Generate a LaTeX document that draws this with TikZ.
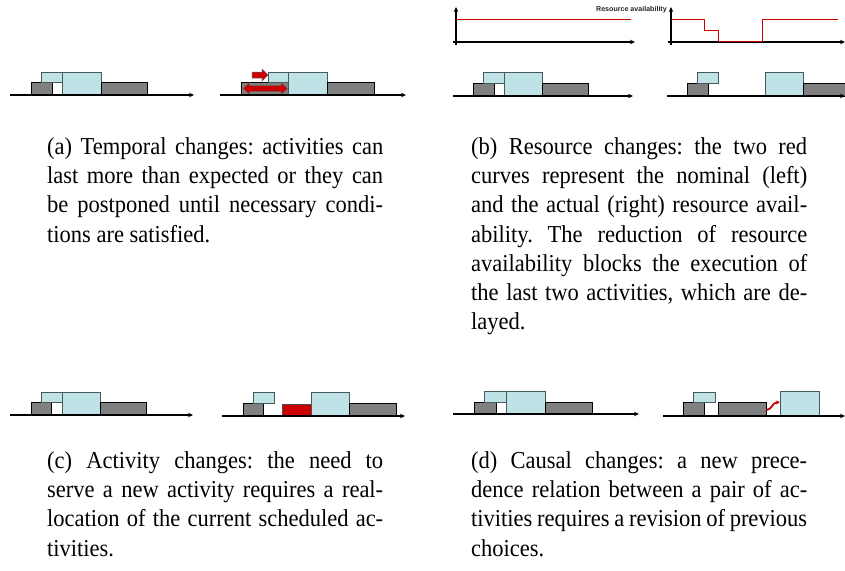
\documentclass[tikz,border=0pt]{standalone}
\usepackage{graphicx}
\usepackage{fontspec}
\setmainfont{Liberation Serif}
\newfontfamily\labelfont{Liberation Sans}
\usetikzlibrary{arrows.meta}
\definecolor{lbfill}{RGB}{190,226,230}
\definecolor{lbdraw}{RGB}{70,90,90}
\definecolor{gfill}{RGB}{128,128,128}
\definecolor{redfill}{RGB}{204,0,0}
\tikzset{
  lbbox/.style={fill=lbfill,draw=lbdraw,line width=0.9pt},
  gbox/.style={fill=gfill,draw=black,line width=0.9pt},
  rbox/.style={fill=redfill,draw=black!70,line width=0.6pt},
  axis/.style={draw=black,line width=1.2pt,-{Stealth[length=5pt,width=4.5pt]}},
  resline/.style={draw=redfill,line width=1pt},
  blockarrow/.style={fill=redfill,draw=black!60,line width=0.5pt},
  captext/.style={anchor=base west,inner sep=0pt,font=\fontsize{22.5}{27}\selectfont\frenchspacing},
}
\newcommand{\jline}[1]{\scalebox{1}[1.08]{\makebox[336pt][s]{#1}}}
\newcommand{\lline}[1]{\scalebox{1}[1.08]{#1}}
\begin{document}
\begin{tikzpicture}[x=1pt,y=-1pt]
\useasboundingbox (0,0) rectangle (845,570);
\fill[white] (0,0) rectangle (845,570);

% ---------- (a) left ----------
\draw[gbox] (31,82) rectangle (52,95);
\draw[lbbox] (41,72) rectangle (62,82);
\draw[lbbox] (62,72) rectangle (101,95);
\draw[gbox] (101,82) rectangle (147,95);
\coordinate (aL0) at (10,95); \coordinate (aL1) at (194,95);
\draw[axis] (aL0) -- (aL1);

% ---------- (a) right ----------
\draw[gbox] (241,82) rectangle (288,95);
\draw[lbbox] (268,72) rectangle (288,82);
\draw[lbbox] (288,72) rectangle (327,95);
\draw[gbox] (327,82) rectangle (374,95);
\draw[blockarrow] (243,88.5) -- (249.5,82.5) -- (249.5,85.5) -- (281,85.5) -- (281,82.5) -- (287.5,88.5) -- (281,94.5) -- (281,91.5) -- (249.5,91.5) -- (249.5,94.5) -- cycle;
\draw[blockarrow] (252,72) -- (262,72) -- (262,69) -- (268,75) -- (262,81) -- (262,78) -- (252,78) -- cycle;
\coordinate (aR0) at (220,95); \coordinate (aR1) at (406,95);
\draw[axis] (aR0) -- (aR1);

% ---------- (b) resource charts ----------
\coordinate (r1o) at (456,45); \coordinate (r1t) at (456,7);
\coordinate (r1h0) at (453,42); \coordinate (r1h1) at (635,42);
\draw[axis] (r1o) -- (r1t);
\draw[axis] (r1h0) -- (r1h1);
\draw[resline] (456,19) -- (631,19);
\node[anchor=base east,inner sep=0pt,font=\labelfont\bfseries\fontsize{7.1}{8}\selectfont,text=black!85] (reslabel) at (667,11) {Resource availability};
\coordinate (r2o) at (671,45); \coordinate (r2t) at (671,7);
\coordinate (r2h0) at (668,42); \coordinate (r2h1) at (845,42);
\draw[axis] (r2o) -- (r2t);
\draw[axis] (r2h0) -- (r2h1);
\draw[resline] (671,19) -- (704,19) -- (704,30.5) -- (718,30.5) -- (718,41.5) -- (762,41.5) -- (762,19) -- (838,19);

% ---------- (b) left ----------
\draw[gbox] (473,83) rectangle (494,96);
\draw[lbbox] (483,72) rectangle (504,83);
\draw[lbbox] (504,72) rectangle (542,96);
\draw[gbox] (542,83) rectangle (588,96);
\coordinate (bL0) at (453,96); \coordinate (bL1) at (633,96);
\draw[axis] (bL0) -- (bL1);

% ---------- (b) right ----------
\draw[gbox] (687,83) rectangle (708,96);
\draw[lbbox] (697,72) rectangle (718,83);
\draw[lbbox] (765,72) rectangle (803,96);
\draw[gbox] (803,83) rectangle (852,96);
\coordinate (bR0) at (667,96); \coordinate (bR1) at (845,96);
\draw[axis] (bR0) -- (bR1);

% ---------- (c) left ----------
\draw[gbox] (31,402) rectangle (51,415);
\draw[lbbox] (41,392) rectangle (62,402);
\draw[lbbox] (62,392) rectangle (100,415);
\draw[gbox] (100,402) rectangle (146,415);
\coordinate (cL0) at (10,415); \coordinate (cL1) at (193,415);
\draw[axis] (cL0) -- (cL1);

% ---------- (c) right ----------
\draw[gbox] (243,403) rectangle (263,416);
\draw[lbbox] (253,392) rectangle (274,403);
\draw[rbox] (282,404) rectangle (311,416);
\draw[lbbox] (311,392) rectangle (349,416);
\draw[gbox] (349,403) rectangle (396,416);
\coordinate (cR0) at (222,416); \coordinate (cR1) at (405,416);
\draw[axis] (cR0) -- (cR1);

% ---------- (d) left ----------
\draw[gbox] (474,402) rectangle (496,414);
\draw[lbbox] (484,391) rectangle (506,402);
\draw[lbbox] (506,391) rectangle (545,414);
\draw[gbox] (545,402) rectangle (592,414);
\coordinate (dL0) at (453,414); \coordinate (dL1) at (639,414);
\draw[axis] (dL0) -- (dL1);

% ---------- (d) right ----------
\draw[gbox] (683,402) rectangle (704,416);
\draw[lbbox] (693,392) rectangle (715,402);
\draw[gbox] (718,402) rectangle (766,416);
\draw[lbbox] (780,391) rectangle (819,416);
\coordinate (dRa) at (766.5,410); \coordinate (dRb) at (780,402);
\draw[draw=redfill,line width=1.8pt,-{Stealth[length=4pt,width=4pt]}] (dRa) .. controls (773,409) and (771,403) .. (dRb);
\coordinate (dR0) at (663,416); \coordinate (dR1) at (845,416);
\draw[axis] (dR0) -- (dR1);

% ---------- captions ----------
\node[captext] (a1) at (47,154.5) {\jline{(a) Temporal changes: activities can}};
\node[captext] (a2) at (47,183.7) {\jline{last more than expected or they can}};
\node[captext] (a3) at (47,212.9) {\jline{be postponed until necessary condi-}};
\node[captext] (a4) at (47,242.1) {\lline{tions are satisfied.}};

\node[captext] (b1) at (471,154.5) {\jline{(b) Resource changes: the two red}};
\node[captext] (b2) at (471,183.7) {\jline{curves represent the nominal (left)}};
\node[captext] (b3) at (471,212.9) {\jline{and the actual (right) resource avail-}};
\node[captext] (b4) at (471,242.1) {\jline{ability. The reduction of resource}};
\node[captext] (b5) at (471,271.3) {\jline{availability blocks the execution of}};
\node[captext] (b6) at (471,300.5) {\jline{the last two activities, which are de-}};
\node[captext] (b7) at (471,329.7) {\lline{layed.}};

\node[captext] (c1) at (47,468.5) {\jline{(c) Activity changes: the need to}};
\node[captext] (c2) at (47,497.7) {\jline{serve a new activity requires a real-}};
\node[captext] (c3) at (47,526.9) {\jline{location of the current scheduled ac-}};
\node[captext] (c4) at (47,556.1) {\lline{tivities.}};

\node[captext] (d1) at (471,468.5) {\jline{(d) Causal changes: a new prece-}};
\node[captext] (d2) at (471,497.7) {\jline{dence relation between a pair of ac-}};
\node[captext] (d3) at (471,526.9) {\jline{tivities requires a revision of previous}};
\node[captext] (d4) at (471,556.1) {\lline{choices.}};
\end{tikzpicture}
\end{document}
